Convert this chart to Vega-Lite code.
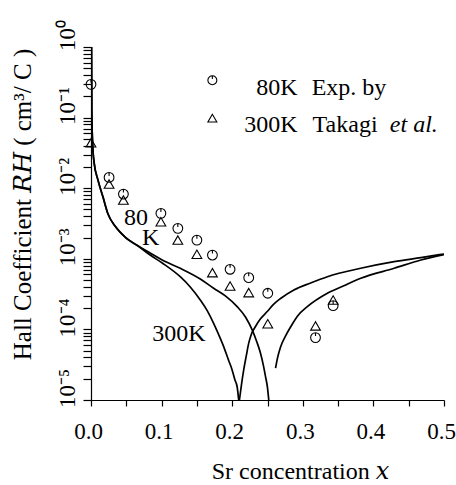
{
  "$schema": "https://vega.github.io/schema/vega-lite/v6.json",
  "width": 353,
  "height": 353,
  "autosize": {"type": "none"},
  "padding": {"left": 91, "top": 47, "right": 12, "bottom": 85},
  "background": "white",
  "config": {
    "view": {"stroke": null},
    "font": "Liberation Serif",
    "text": {"font": "Liberation Serif"},
    "axis": {
      "grid": false,
      "domainColor": "black",
      "domainWidth": 1.2,
      "tickColor": "black",
      "tickWidth": 1.2,
      "labelColor": "black",
      "titleColor": "black",
      "labelFont": "Liberation Serif",
      "titleFont": "Liberation Serif, DejaVu Serif",
      "labelFontSize": 23,
      "titleFontSize": 24,
      "titleFontWeight": "normal",
      "labelOverlap": false,
      "labelFlush": false,
      "labelBound": false
    }
  },
  "datasets": {
    "curves": [
      {"curve": "80K-a", "x": 0.0007, "y": 1},
      {"curve": "80K-a", "x": 0.0011, "y": 0.1274},
      {"curve": "80K-a", "x": 0.0021, "y": 0.04786},
      {"curve": "80K-a", "x": 0.0043, "y": 0.02339},
      {"curve": "80K-a", "x": 0.0099, "y": 0.01303},
      {"curve": "80K-a", "x": 0.017, "y": 0.00748},
      {"curve": "80K-a", "x": 0.0241, "y": 0.004305},
      {"curve": "80K-a", "x": 0.0341, "y": 0.002911},
      {"curve": "80K-a", "x": 0.0483, "y": 0.002032},
      {"curve": "80K-a", "x": 0.0668, "y": 0.001517},
      {"curve": "80K-a", "x": 0.0838, "y": 0.001208},
      {"curve": "80K-a", "x": 0.1009, "y": 0.000962},
      {"curve": "80K-a", "x": 0.1264, "y": 0.000734},
      {"curve": "80K-a", "x": 0.1548, "y": 0.000518},
      {"curve": "80K-a", "x": 0.1737, "y": 0.000383},
      {"curve": "80K-a", "x": 0.1903, "y": 0.000298},
      {"curve": "80K-a", "x": 0.207, "y": 0.00021},
      {"curve": "80K-a", "x": 0.2188, "y": 0.00015},
      {"curve": "80K-a", "x": 0.2283, "y": 0.0000984},
      {"curve": "80K-a", "x": 0.2344, "y": 0.0000687},
      {"curve": "80K-a", "x": 0.2401, "y": 0.000046},
      {"curve": "80K-a", "x": 0.2443, "y": 0.0000305},
      {"curve": "80K-a", "x": 0.2472, "y": 0.0000215},
      {"curve": "80K-a", "x": 0.25, "y": 0.0000149},
      {"curve": "80K-a", "x": 0.2518, "y": 0.00001},
      {"curve": "300K-a", "x": 0.0007, "y": 1},
      {"curve": "300K-a", "x": 0.0011, "y": 0.1274},
      {"curve": "300K-a", "x": 0.0021, "y": 0.04786},
      {"curve": "300K-a", "x": 0.0043, "y": 0.02339},
      {"curve": "300K-a", "x": 0.0099, "y": 0.01303},
      {"curve": "300K-a", "x": 0.017, "y": 0.00748},
      {"curve": "300K-a", "x": 0.0241, "y": 0.004305},
      {"curve": "300K-a", "x": 0.0341, "y": 0.002911},
      {"curve": "300K-a", "x": 0.0483, "y": 0.002032},
      {"curve": "300K-a", "x": 0.0668, "y": 0.001517},
      {"curve": "300K-a", "x": 0.0838, "y": 0.00113},
      {"curve": "300K-a", "x": 0.1009, "y": 0.000873},
      {"curve": "300K-a", "x": 0.1264, "y": 0.000558},
      {"curve": "300K-a", "x": 0.1406, "y": 0.000399},
      {"curve": "300K-a", "x": 0.1548, "y": 0.000261},
      {"curve": "300K-a", "x": 0.1648, "y": 0.000183},
      {"curve": "300K-a", "x": 0.1737, "y": 0.000122},
      {"curve": "300K-a", "x": 0.1804, "y": 0.0000863},
      {"curve": "300K-a", "x": 0.1879, "y": 0.0000571},
      {"curve": "300K-a", "x": 0.1946, "y": 0.0000371},
      {"curve": "300K-a", "x": 0.1999, "y": 0.0000267},
      {"curve": "300K-a", "x": 0.2038, "y": 0.0000193},
      {"curve": "300K-a", "x": 0.207, "y": 0.0000154},
      {"curve": "300K-a", "x": 0.2092, "y": 0.00001},
      {"curve": "300K-b", "x": 0.2102, "y": 0.00001},
      {"curve": "300K-b", "x": 0.2131, "y": 0.0000164},
      {"curve": "300K-b", "x": 0.2163, "y": 0.0000267},
      {"curve": "300K-b", "x": 0.2202, "y": 0.0000436},
      {"curve": "300K-b", "x": 0.2234, "y": 0.0000638},
      {"curve": "300K-b", "x": 0.2273, "y": 0.0000863},
      {"curve": "300K-b", "x": 0.233, "y": 0.00011},
      {"curve": "300K-b", "x": 0.2401, "y": 0.000141},
      {"curve": "300K-b", "x": 0.2496, "y": 0.000179},
      {"curve": "300K-b", "x": 0.2589, "y": 0.000228},
      {"curve": "300K-b", "x": 0.2685, "y": 0.000274},
      {"curve": "300K-b", "x": 0.2874, "y": 0.000362},
      {"curve": "300K-b", "x": 0.3111, "y": 0.000455},
      {"curve": "300K-b", "x": 0.3348, "y": 0.000558},
      {"curve": "300K-b", "x": 0.3821, "y": 0.000734},
      {"curve": "300K-b", "x": 0.4294, "y": 0.00091},
      {"curve": "300K-b", "x": 0.4673, "y": 0.00104},
      {"curve": "300K-b", "x": 0.5, "y": 0.00117},
      {"curve": "80K-b", "x": 0.2614, "y": 0.0000282},
      {"curve": "80K-b", "x": 0.2642, "y": 0.0000395},
      {"curve": "80K-b", "x": 0.2685, "y": 0.0000565},
      {"curve": "80K-b", "x": 0.2756, "y": 0.0000809},
      {"curve": "80K-b", "x": 0.2827, "y": 0.000108},
      {"curve": "80K-b", "x": 0.2926, "y": 0.000155},
      {"curve": "80K-b", "x": 0.3064, "y": 0.00021},
      {"curve": "80K-b", "x": 0.3348, "y": 0.000325},
      {"curve": "80K-b", "x": 0.3608, "y": 0.000426},
      {"curve": "80K-b", "x": 0.3821, "y": 0.00053},
      {"curve": "80K-b", "x": 0.4294, "y": 0.000734},
      {"curve": "80K-b", "x": 0.4673, "y": 0.000962},
      {"curve": "80K-b", "x": 0.5, "y": 0.00115}
    ],
    "exp": [
      {"T": "80K", "x": 0, "y": 0.296},
      {"T": "80K", "x": 0.0256, "y": 0.01422},
      {"T": "80K", "x": 0.0459, "y": 0.00826},
      {"T": "80K", "x": 0.099, "y": 0.0044},
      {"T": "80K", "x": 0.123, "y": 0.0027},
      {"T": "80K", "x": 0.15, "y": 0.00184},
      {"T": "80K", "x": 0.172, "y": 0.00113},
      {"T": "80K", "x": 0.197, "y": 0.00071},
      {"T": "80K", "x": 0.2234, "y": 0.000541},
      {"T": "80K", "x": 0.2504, "y": 0.000325},
      {"T": "80K", "x": 0.318, "y": 0.0000766},
      {"T": "80K", "x": 0.343, "y": 0.000217},
      {"T": "300K", "x": 0, "y": 0.0439},
      {"T": "300K", "x": 0.0256, "y": 0.01143},
      {"T": "300K", "x": 0.0459, "y": 0.00679},
      {"T": "300K", "x": 0.099, "y": 0.00335},
      {"T": "300K", "x": 0.123, "y": 0.00184},
      {"T": "300K", "x": 0.15, "y": 0.00116},
      {"T": "300K", "x": 0.172, "y": 0.000636},
      {"T": "300K", "x": 0.197, "y": 0.000412},
      {"T": "300K", "x": 0.2234, "y": 0.000332},
      {"T": "300K", "x": 0.2504, "y": 0.00012},
      {"T": "300K", "x": 0.318, "y": 0.000112},
      {"T": "300K", "x": 0.343, "y": 0.000261}
    ],
    "legendSymbols": [
      {"T": "80K", "x": 0.1719, "y": 0.338},
      {"T": "300K", "x": 0.1719, "y": 0.0981}
    ],
    "textRight": [
      {"label": "80K", "x": 0.2926, "y": 0.2075},
      {"label": "300K", "x": 0.2926, "y": 0.0621}
    ],
    "textLeft": [
      {"label": "Exp. by", "x": 0.3125, "y": 0.2075},
      {"label": "Takagi", "x": 0.3139, "y": 0.0621},
      {"label": "80", "x": 0.0469, "y": 0.003006},
      {"label": "K", "x": 0.0724, "y": 0.001567},
      {"label": "300K", "x": 0.0866, "y": 0.0000687}
    ],
    "textItalic": [
      {"label": "et al.", "x": 0.4233, "y": 0.0621}
    ]
  },
  "encoding": {
    "x": {
      "field": "x",
      "type": "quantitative",
      "scale": {"domain": [0, 0.5], "nice": false, "zero": false},
      "axis": {
        "title": "Sr concentration 𝑥",
        "values": [0, 0.05, 0.1, 0.15, 0.2, 0.25, 0.3, 0.35, 0.4, 0.45, 0.5],
        "labelExpr": "round(datum.value * 100) % 10 == 0 ? format(datum.value, '.1f') : ''",
        "tickSize": 6,
        "labelPadding": 14,
        "labelOffset": -3,
        "titlePadding": 16,
        "titleX": 209,
        "titleAnchor": "middle"
      }
    },
    "y": {
      "field": "y",
      "type": "quantitative",
      "scale": {"type": "log", "domain": [0.00001, 1], "nice": false},
      "axis": {
        "title": "Hall Coefficient 𝑅𝐻 ( cm³/ C )",
        "titleFontSize": 25,
        "values": [0.00001, 0.00002, 0.00003, 0.00004, 0.00005, 0.00006, 0.00007, 0.00008, 0.00009, 0.0001, 0.0002, 0.0003, 0.0004, 0.0005, 0.0006, 0.0007, 0.0008, 0.0009, 0.001, 0.002, 0.003, 0.004, 0.005, 0.006, 0.007, 0.008, 0.009, 0.01, 0.02, 0.03, 0.04, 0.05, 0.06, 0.07, 0.08, 0.09, 0.1, 0.2, 0.3, 0.4, 0.5, 0.6, 0.7, 0.8, 0.9, 1],
        "labelExpr": "datum.value == 1 ? '10⁰' : datum.value == 0.1 ? '10⁻¹' : datum.value == 0.01 ? '10⁻²' : datum.value == 0.001 ? '10⁻³' : datum.value == 0.0001 ? '10⁻⁴' : datum.value == 0.00001 ? '10⁻⁵' : ''",
        "labelAngle": 270,
        "labelAlign": "center",
        "labelBaseline": "bottom",
        "labelOffset": -12,
        "labelPadding": 4,
        "tickSize": 8,
        "titlePadding": 21,
        "titleY": 157
      }
    }
  },
  "layer": [
    {
      "data": {"name": "curves"},
      "mark": {"type": "line", "color": "black", "strokeWidth": 1.7, "clip": true, "interpolate": "monotone"},
      "encoding": {"detail": {"field": "curve"}}
    },
    {
      "data": {"name": "exp"},
      "mark": {"type": "point", "filled": false, "color": "black", "strokeWidth": 1.1, "opacity": 1},
      "encoding": {
        "shape": {
          "field": "T",
          "type": "nominal",
          "scale": {"domain": ["80K", "300K"], "range": ["M-1,0A1,1 0 1,1 1,0A1,1 0 1,1 -1,0ZM0,-1L0,-0.3", "triangle-up"]},
          "legend": null
        },
        "size": {"value": 95}
      }
    },
    {
      "data": {"name": "legendSymbols"},
      "mark": {"type": "point", "filled": false, "color": "black", "strokeWidth": 1.1, "opacity": 1, "size": 80},
      "encoding": {
        "shape": {
          "field": "T",
          "type": "nominal",
          "scale": {"domain": ["80K", "300K"], "range": ["M-1,0A1,1 0 1,1 1,0A1,1 0 1,1 -1,0ZM0,-1L0,-0.3", "triangle-up"]},
          "legend": null
        }
      }
    },
    {
      "data": {"name": "textRight"},
      "mark": {"type": "text", "align": "right", "baseline": "alphabetic", "fontSize": 24, "color": "black", "font": "Liberation Serif"},
      "encoding": {"text": {"field": "label"}}
    },
    {
      "data": {"name": "textLeft"},
      "mark": {"type": "text", "align": "left", "baseline": "alphabetic", "fontSize": 24, "color": "black", "font": "Liberation Serif"},
      "encoding": {"text": {"field": "label"}}
    },
    {
      "data": {"name": "textItalic"},
      "mark": {"type": "text", "align": "left", "baseline": "alphabetic", "fontSize": 24, "fontStyle": "italic", "color": "black", "font": "Liberation Serif"},
      "encoding": {"text": {"field": "label"}}
    }
  ]
}
